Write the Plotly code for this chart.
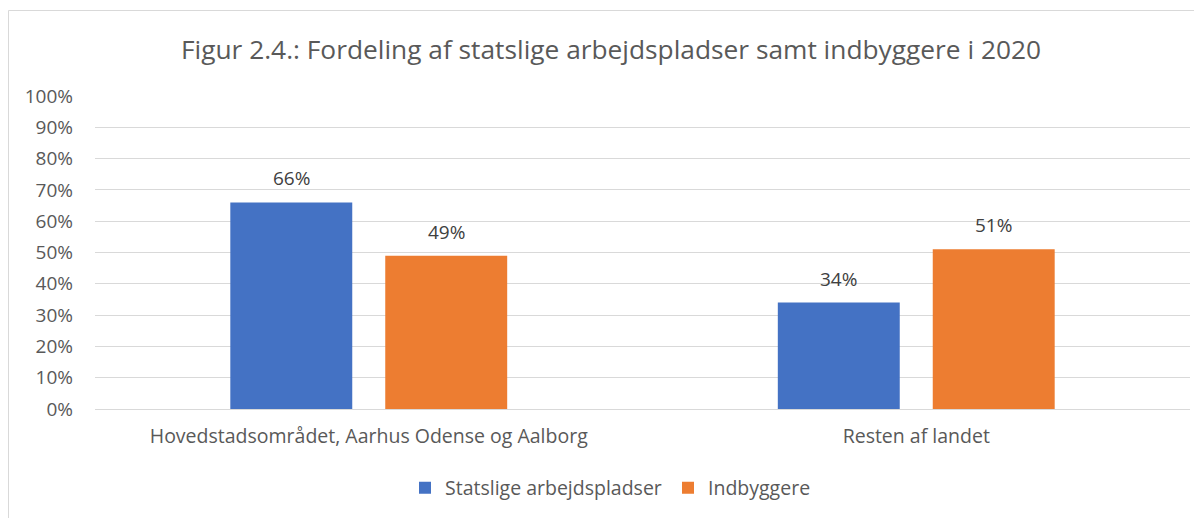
import plotly.graph_objects as go

categories = ["Hovedstadsområdet, Aarhus Odense og Aalborg", "Resten af landet"]
series_names = ["Statslige arbejdspladser", "Indbyggere"]
statslige = [0.66, 0.34]
indbyggere = [0.49, 0.51]
colors = ["#4472C4", "#ED7D31"]
title_text = "Figur 2.4.: Fordeling af statslige arbejdspladser samt indbyggere i 2020"

W, H = 1202, 518
OFF = 8  # browser body margin
# plot area in page pixels: x 95..1190, y 96..409
L = 95 - OFF
R = W - (1190 - OFF)
T = 96 - OFF
B = H - (409 - OFF)
FONT = "Open Sans, Lato, sans-serif"
BARGAP, BARGROUPGAP = 0.434, 0.213

fig = go.Figure()
for name, vals, col in zip(series_names, [statslige, indbyggere], colors):
    fig.add_trace(go.Bar(
        x=categories, y=vals, name=name, marker=dict(color=col, line=dict(width=0)),
    ))

pw = W - L - R
ph = H - T - B
def px_x(p): return (p - OFF - L) / pw   # page px -> paper
def px_y(p): return (H - B - (p - OFF)) / ph

cat_w = pw / len(categories)
slot = cat_w * (1 - BARGAP) / len(series_names)
annotations = []
for si, vals in enumerate([statslige, indbyggere]):
    off = (si - (len(series_names) - 1) / 2) * slot
    for c, v in zip(categories, vals):
        annotations.append(dict(x=c, y=v, xref="x", yref="y", text=f"{v:.0%}", showarrow=False,
                                xshift=off, yshift=24, yanchor="middle",
                                font=dict(size=19, color="#404040", family=FONT)))

fig.update_layout(
    width=W, height=H,
    margin=dict(l=L, r=R, t=T, b=B, autoexpand=False),
    paper_bgcolor="white", plot_bgcolor="white",
    font=dict(family=FONT, color="#595959", size=19),
    title=dict(text=title_text, x=(611 - OFF) / W, xanchor="center", y=1 - (50 - OFF) / H,
               yanchor="middle", font=dict(size=26.3, color="#595959", family=FONT)),
    barmode="group", bargap=BARGAP, bargroupgap=BARGROUPGAP,
    showlegend=True,
    legend=dict(orientation="h", x=px_x(405), xanchor="left", y=px_y(488), yanchor="middle",
                font=dict(size=19.5, color="#595959"), traceorder="normal",
                entrywidth=218, entrywidthmode="pixels"),
    yaxis=dict(range=[0, 1], dtick=0.1, tickformat=".0%", showgrid=True, gridcolor="#D9D9D9",
               gridwidth=1, zeroline=False, showline=False, ticks="", ticklabelstandoff=21,
               automargin=False, tickfont=dict(size=19, color="#595959")),
    xaxis=dict(showline=True, linecolor="#D9D9D9", linewidth=1, ticks="", ticklabelstandoff=10,
               automargin=False, tickfont=dict(size=19.5, color="#595959")),
    annotations=annotations,
    shapes=[dict(type="rect", xref="paper", yref="paper",
                 x0=px_x(8.5), x1=px_x(1240), y0=px_y(600), y1=px_y(10.5),
                 line=dict(color="#D9D9D9", width=1), fillcolor="rgba(0,0,0,0)", layer="below")],
)

fig.write_html("out.html")
